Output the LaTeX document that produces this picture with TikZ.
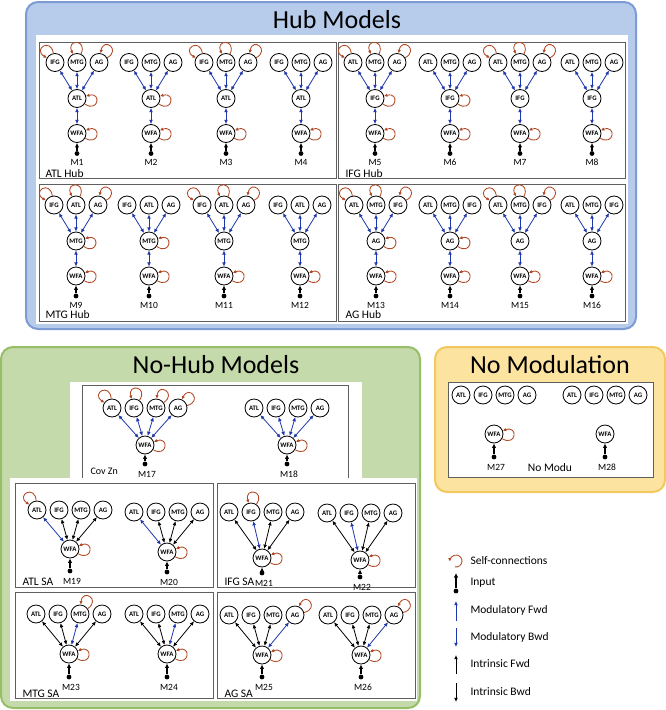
\documentclass[tikz,border=0pt]{standalone}
\usepackage{fontspec}
\setmainfont{Carlito}
\usetikzlibrary{arrows.meta}
\definecolor{hubFill}{RGB}{183,203,235}
\definecolor{hubLine}{RGB}{125,155,212}
\definecolor{nohubFill}{RGB}{197,218,170}
\definecolor{nohubLine}{RGB}{150,190,105}
\definecolor{nomodFill}{RGB}{252,227,160}
\definecolor{nomodLine}{RGB}{242,200,95}
\definecolor{modBlue}{RGB}{30,55,170}
\definecolor{loopBrown}{RGB}{178,72,35}
\definecolor{panelGray}{RGB}{95,95,95}

\tikzset{
  >={Latex[length=4.2pt,width=3.8pt]},
  roi/.style={draw, circle, line width=0.8pt, fill=white, minimum size=18pt, inner sep=0pt,
    font=\fontsize{6.8}{6.8}\selectfont\bfseries},
  inpdot/.style={circle, fill, inner sep=0pt, minimum size=4.8pt},
  mlabel/.style={font=\fontsize{9.5}{10}\selectfont},
  plabel/.style={font=\fontsize{11.5}{12}\selectfont, anchor=base west},
  title/.style={font=\fontsize{26}{30}\selectfont, anchor=base},
  legtext/.style={font=\fontsize{11.5}{12}\selectfont, anchor=west},
  modc/.style={draw=modBlue, line width=0.8pt, <->},
  intc/.style={draw=black, line width=0.8pt, <->},
  inp/.style={line width=1.2pt, -{Latex[length=4.5pt,width=4.4pt]}},
  selfloop/.style={draw=loopBrown, line width=0.85pt, -{Latex[length=3.4pt,width=3.4pt]},
    looseness=1, min distance=16.5pt},
  panel/.style={draw=panelGray, line width=0.7pt},
  bigbox/.style={line width=2pt, rounded corners=12pt},
  % loop directions
  lpl/.style={out=100,in=150},
  lpm/.style={out=65,in=115},
  lpr/.style={out=30,in=80},
  lph/.style={out=-35,in=15},
  lpw/.style={out=-30,in=20},
  lpa/.style={out=95,in=145},
  lpb/.style={out=55,in=105},
  lpc/.style={out=35,in=85},
  lpd/.style={out=15,in=65}
}

% hub model: number, x, top row y, three top regions, hub region
\newcommand{\hubnet}[7]{%
  \node[roi] (m#1l) at (#2-22,#3) {#4};
  \node[roi] (m#1m) at (#2,#3) {#5};
  \node[roi] (m#1r) at (#2+22,#3) {#6};
  \node[roi] (m#1h) at (#2,#3+36) {#7};
  \node[roi] (m#1w) at (#2,#3+71) {WFA};
  \node[inpdot] (m#1i) at (#2,#3+91) {};
  \node[mlabel] (m#1t) at (#2,#3+100) {M#1};
  \draw[modc] (m#1l) -- (m#1h);
  \draw[modc] (m#1m) -- (m#1h);
  \draw[modc] (m#1r) -- (m#1h);
  \draw[modc] (m#1h) -- (m#1w);
  \draw[inp] (m#1i) -- (m#1w);
}

% no-hub model: number, x, top row y, WFA y, label y
\newcommand{\fannet}[5]{%
  \node[roi] (m#1a) at (#2-33,#3) {ATL};
  \node[roi] (m#1b) at (#2-11,#3) {IFG};
  \node[roi] (m#1c) at (#2+11,#3) {MTG};
  \node[roi] (m#1d) at (#2+33,#3) {AG};
  \node[roi] (m#1w) at (#2,#4) {WFA};
  \node[inpdot] (m#1i) at (#2,#5-10) {};
  \node[mlabel] (m#1t) at (#2+2,#5) {M#1};
  \draw[inp] (m#1i) -- (m#1w);
}

\begin{document}
\begin{tikzpicture}[x=1pt,y=-1pt]
\useasboundingbox (0,0) rectangle (666,710);

% Hub Models
\draw[bigbox, fill=hubFill, draw=hubLine] (26,2) rectangle (636,329);
\node[title] (hubtitle) at (337,28) {Hub Models};
\fill[white] (36,35) rectangle (628,324);
\draw[panel] (39,42) rectangle (336,178);
\draw[panel] (338,42) rectangle (625,178);
\draw[panel] (39,184) rectangle (336,321);
\draw[panel] (338,184) rectangle (625,321);
\node[plabel] (atlhub) at (42,177) {ATL Hub};
\node[plabel] (ifghub) at (342,177) {IFG Hub};
\node[plabel] (mtghub) at (42,318) {MTG Hub};
\node[plabel] (aghub) at (342,318) {AG Hub};

\foreach \m/\x in {1/77,2/151,3/226,4/301}{\hubnet{\m}{\x}{62.5}{IFG}{MTG}{AG}{ATL}}
\foreach \m/\x in {5/375,6/450,7/520,8/592}{\hubnet{\m}{\x}{62.5}{ATL}{MTG}{AG}{IFG}}
\foreach \m/\x in {9/76,10/149,11/224,12/300}{\hubnet{\m}{\x}{205}{IFG}{ATL}{AG}{MTG}}
\foreach \m/\x in {13/376,14/450,15/520,16/592}{\hubnet{\m}{\x}{205}{ATL}{MTG}{IFG}{AG}}

% self-connections
\foreach \m in {1,5,9,13}{\foreach \n in {l,m,r,h} \draw[selfloop] (m\m\n) to[lp\n] (m\m\n);}
\foreach \m in {2,6,10,14} \draw[selfloop] (m\m h) to[lph] (m\m h);
\foreach \m in {3,7,11,15}{\foreach \n in {l,m,r} \draw[selfloop] (m\m\n) to[lp\n] (m\m\n);}
\foreach \m in {1,...,16} \draw[selfloop] (m\m w) to[lpw] (m\m w);

% No-Hub Models
\draw[bigbox, fill=nohubFill, draw=nohubLine] (1,347) rectangle (420,708);
\node[title] (nohubtitle) at (216,373) {No-Hub Models};
\fill[white] (70,382) rectangle (362,478);
\draw[panel] (82,385) rectangle (348,478);
\node[plabel, font=\fontsize{10}{11}\selectfont] (covzn) at (87,474) {Cov Zn};
\fannet{17}{145}{408}{445}{474}
\fannet{18}{287}{408}{445}{474}
\foreach \m in {17,18}{\foreach \n in {a,b,c,d} \draw[modc] (m\m\n) -- (m\m w);}
\foreach \n in {a,b,c,d,w} \draw[selfloop] (m17\n) to[lp\n] (m17\n);
\draw[selfloop] (m18w) to[lpw] (m18w);

\fill[white] (10,478) rectangle (417,701);
\draw[panel] (15,483) rectangle (213,587);
\draw[panel] (217,483) rectangle (415,587);
\draw[panel] (15,592) rectangle (213,698);
\draw[panel] (217,592) rectangle (415,698);
\node[plabel] (atlsa) at (19,585) {ATL SA};
\node[plabel] (ifgsa) at (221,585) {IFG SA};
\node[plabel] (mtgsa) at (19,697) {MTG SA};
\node[plabel] (agsa) at (221,697) {AG SA};

\foreach \m/\mx/\ty/\wy/\ly/\sel in {19/70/510/549/581/1,20/167/512/552/582/1,
  21/262/512/558/583/2,22/360/513/560/587/2,23/69/614/654/687/3,24/167/614/654/687/3,
  25/262/615/655/687/4,26/361/615/655/687/4}{
  \fannet{\m}{\mx}{\ty}{\wy}{\ly}
  \foreach \n/\k in {a/1,b/2,c/3,d/4}{%
    \ifnum\k=\sel \draw[modc] (m\m\n) -- (m\m w); \else \draw[intc] (m\m\n) -- (m\m w); \fi}
}
\foreach \m/\n in {19/a,19/w,20/w,21/b,21/w,22/w,23/c,23/w,24/w,25/d,25/w,26/d,26/w}
  \draw[selfloop] (m\m\n) to[lp\n] (m\m\n);

% No Modulation
\draw[bigbox, fill=nomodFill, draw=nomodLine] (435,347) rectangle (665,492);
\node[title] (nomodtitle) at (550,373) {No Modulation};
\draw[panel, fill=white] (448,382) rectangle (653,477);
\fannet{27}{494}{395}{434}{467}
\fannet{28}{605}{395}{434}{467}
\draw[selfloop] (m27w) to[lpw] (m27w);
\node[plabel, anchor=base] (nomodu) at (550,471) {No Modu};

% legend
\coordinate (lgc) at (456,561);
\draw[selfloop] ([shift={(-100:6pt)}]lgc) arc[start angle=-100,end angle=185,radius=6pt];
\node[legtext] (lgself) at (467,561) {Self-connections};
\node[inpdot] (lgdot) at (456,591) {};
\coordinate (lgin) at (456,573);
\draw[inp] (lgdot) -- (lgin);
\node[legtext] (lginp) at (467,583) {Input};
\coordinate (lgmf0) at (456,621);
\coordinate (lgmf1) at (456,601);
\draw[modc, ->] (lgmf0) -- (lgmf1);
\node[legtext] (lgmf) at (467,610) {Modulatory Fwd};
\coordinate (lgmb0) at (456,628);
\coordinate (lgmb1) at (456,647);
\draw[modc, ->] (lgmb0) -- (lgmb1);
\node[legtext] (lgmb) at (467,637) {Modulatory Bwd};
\coordinate (lgif0) at (456,674);
\coordinate (lgif1) at (456,655);
\draw[intc, ->] (lgif0) -- (lgif1);
\node[legtext] (lgif) at (467,664) {Intrinsic Fwd};
\coordinate (lgib0) at (456,683);
\coordinate (lgib1) at (456,702);
\draw[intc, ->] (lgib0) -- (lgib1);
\node[legtext] (lgib) at (467,692) {Intrinsic Bwd};

\end{tikzpicture}
\end{document}
